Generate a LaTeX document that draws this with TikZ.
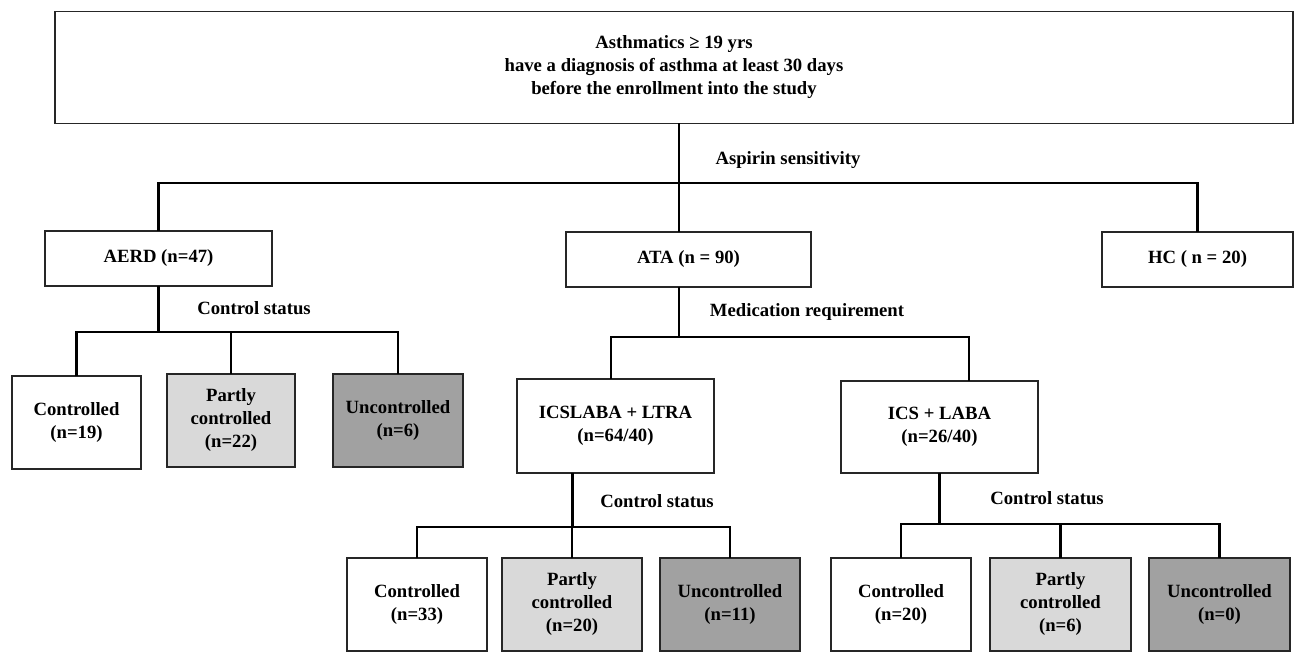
\documentclass[tikz,border=0pt]{standalone}
\usepackage{fontspec}
\setmainfont{Liberation Serif}
\begin{document}
\begin{tikzpicture}[x=1pt,y=-1pt,
  txt/.style={font=\bfseries\fontsize{18.7}{23}\selectfont},
  box/.style={txt, draw=black!85, line width=1.9pt, inner sep=0pt, outer sep=0pt, align=center, fill=white},
  partly/.style={box, fill=black!15},
  unc/.style={box, fill=black!37},
  lbl/.style={txt, inner sep=0pt},
  conn/.style={line width=2.2pt, black}]
\useasboundingbox (0,0) rectangle (1294,652);

% boxes
\node[box, minimum width=1238pt, minimum height=112pt] (top) at (674,67.5)
  {Asthmatics ≥ 19 yrs\\have a diagnosis of asthma at least 30 days\\before the enrollment into the study};
\node[box, minimum width=227pt, minimum height=55pt] (aerd) at (158.5,258.5) {AERD (n=47)};
\node[box, minimum width=245pt, minimum height=55pt] (ata) at (688.5,259.5) {ATA (n = 90)};
\node[box, minimum width=191pt, minimum height=55pt] (hc) at (1197.5,259.5) {HC ( n = 20)};

\node[box, minimum width=129pt, minimum height=93pt] (c1) at (76.5,422.5) {Controlled\\(n=19)};
\node[partly, minimum width=128pt, minimum height=93pt] (p1) at (231,420.5) {Partly\\controlled\\(n=22)};
\node[unc, minimum width=130pt, minimum height=93pt] (u1) at (398,420.5) {Uncontrolled\\(n=6)};

\node[box, minimum width=197pt, minimum height=94pt] (icsl) at (615.5,426) {ICSLABA + LTRA\\(n=64/40)};
\node[box, minimum width=197pt, minimum height=92pt] (icsb) at (939.5,427) {ICS + LABA\\(n=26/40)};

\node[box, minimum width=140pt, minimum height=93pt] (c2) at (417,604.5) {Controlled\\(n=33)};
\node[partly, minimum width=140pt, minimum height=93pt] (p2) at (572,604.5) {Partly\\controlled\\(n=20)};
\node[unc, minimum width=140pt, minimum height=93pt] (u2) at (730,604.5) {Uncontrolled\\(n=11)};

\node[box, minimum width=140pt, minimum height=93pt] (c3) at (901,604.5) {Controlled\\(n=20)};
\node[partly, minimum width=141pt, minimum height=93pt] (p3) at (1060.5,604.5) {Partly\\controlled\\(n=6)};
\node[unc, minimum width=141pt, minimum height=93pt] (u3) at (1219.5,604.5) {Uncontrolled\\(n=0)};

% labels
\node[lbl] (l0) at (788,160) {Aspirin sensitivity};
\node[lbl] (l1) at (254,308) {Control status};
\node[lbl] (l2) at (807,312) {Medication requirement};
\node[lbl] (l3) at (657,501) {Control status};
\node[lbl] (l4) at (1047,498) {Control status};

% junction helpers
\coordinate (j0) at (679,183);
\coordinate (y1) at (0,332);
\coordinate (y2) at (0,337);
\coordinate (y3) at (0,527);
\coordinate (y4) at (0,524);
\coordinate (m0) at (679,0);
\coordinate (m1) at (611,0);
\coordinate (m2) at (969,0);
\coordinate (b1) at (572.5,0);

% connectors
\draw[conn] (top.south -| j0) -- (j0);
\draw[conn] (aerd.north) |- (hc.north |- j0) -- (hc.north);
\draw[conn] (j0) -- (ata.north -| j0);

\draw[conn] (aerd.south) -- (aerd.south |- y1);
\draw[conn] (c1.north) |- (u1.north |- y1) -- (u1.north);
\draw[conn] (p1.north) -- (p1.north |- y1);

\draw[conn] (ata.south -| m0) -- (m0 |- y2);
\draw[conn] (icsl.north -| m1) |- (m2 |- y2) -- (icsb.north -| m2);

\draw[conn] (icsl.south -| b1) -- (b1 |- y3);
\draw[conn] (c2.north) |- (u2.north |- y3) -- (u2.north);
\draw[conn] (p2.north) -- (p2.north |- y3);

\draw[conn] (icsb.south) -- (icsb.south |- y4);
\draw[conn] (c3.north) |- (u3.north |- y4) -- (u3.north);
\draw[conn] (p3.north) -- (p3.north |- y4);
\end{tikzpicture}
\end{document}
